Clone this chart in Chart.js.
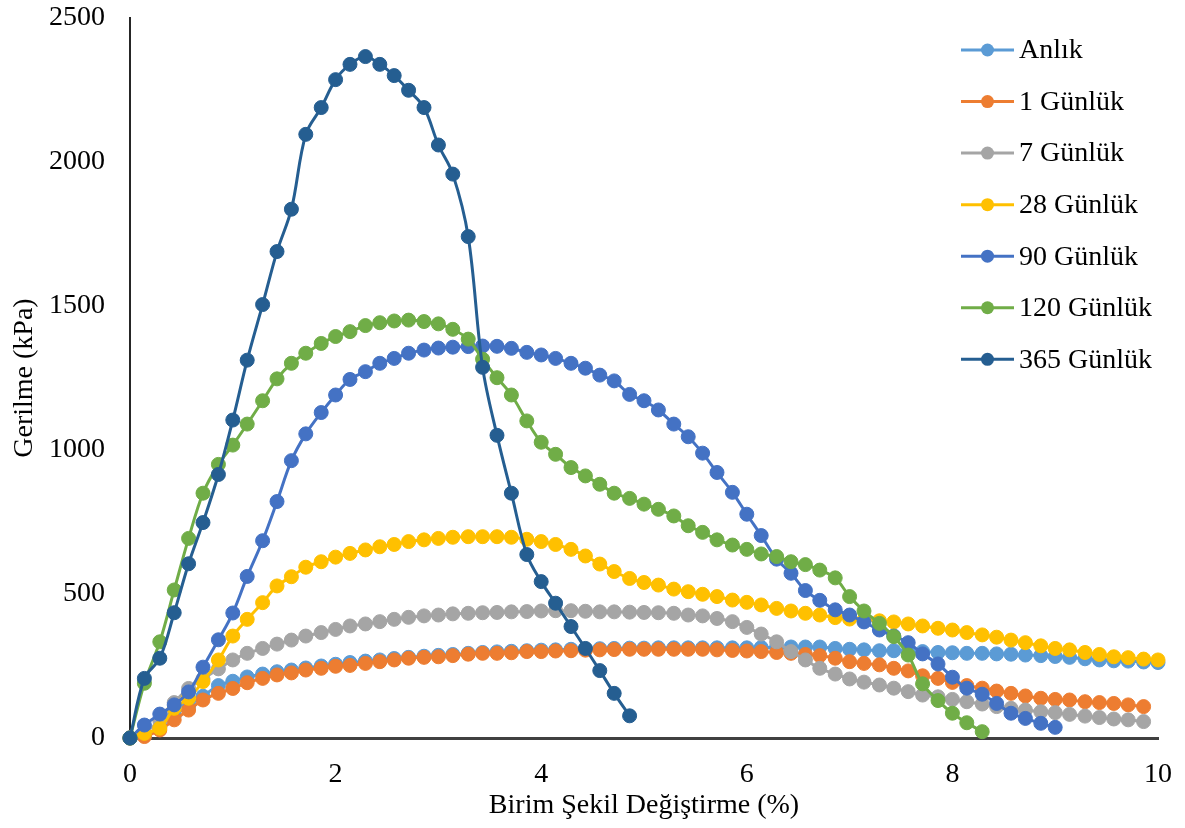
<!DOCTYPE html>
<html lang="tr">

<head>
    <meta charset="UTF-8">
    <title>Gerilme - Birim Şekil Değiştirme</title>
    <script src="https://cdn.jsdelivr.net/npm/chart.js@4.4.1/dist/chart.umd.min.js"></script>
    <style>
        html, body { margin: 0; padding: 0; background: #fff; }
        .chart-container { width: 1185px; height: 828px; position: relative; }
    </style>
</head>

<body>

    <!--chart canvas start-->
    <div class="chart-container">
        <canvas id="chart"></canvas>
    </div>
    <!--chart canvas end-->

    <script>

    // birim şekil değiştirme (%) - same step for every series
    const strain = [0, 0.14, 0.29, 0.43, 0.57, 0.71, 0.86, 1.00, 1.14, 1.29, 1.43, 1.57, 1.71, 1.86,
        2.00, 2.14, 2.29, 2.43, 2.57, 2.71, 2.86, 3.00, 3.14, 3.29, 3.43, 3.57, 3.71, 3.86,
        4.00, 4.14, 4.29, 4.43, 4.57, 4.71, 4.86, 5.00, 5.14, 5.29, 5.43, 5.57, 5.71, 5.86,
        6.00, 6.14, 6.29, 6.43, 6.57, 6.71, 6.86, 7.00, 7.14, 7.29, 7.43, 7.57, 7.71, 7.86,
        8.00, 8.14, 8.29, 8.43, 8.57, 8.71, 8.86, 9.00, 9.14, 9.29, 9.43, 9.57, 9.71, 9.86, 10.00];

    // gerilme (kPa)
    const anlik = [0, 8, 38, 78, 112, 145, 182, 197, 212, 222, 230, 236, 243, 250, 256, 262, 267, 271, 276, 280,
        284, 287, 290, 294, 297, 299, 301, 303, 305, 306, 308, 309, 310, 311, 312, 312, 313, 313, 313, 313,
        313, 313, 313, 314, 315, 316, 316, 316, 311, 308, 306, 303, 303, 300, 300, 297, 296, 294, 294, 292,
        291, 288, 286, 283, 280, 275, 271, 268, 267, 264, 262];

    const gun1 = [0, 5, 28, 63, 97, 132, 155, 172, 192, 207, 219, 226, 236, 242, 249, 252, 259, 265, 271, 277,
        280, 282, 286, 291, 294, 294, 296, 300, 300, 302, 303, 305, 306, 307, 308, 308, 308, 308, 308, 308,
        306, 304, 302, 300, 297, 294, 290, 286, 277, 265, 259, 254, 242, 233, 216, 207, 193, 182, 173, 163,
        155, 146, 138, 134, 132, 126, 123, 120, 115, 109];

    const gun7 = [0, 20, 60, 123, 172, 205, 240, 271, 294, 311, 326, 340, 354, 366, 377, 389, 396, 404, 412, 419,
        424, 427, 431, 433, 435, 436, 438, 439, 441, 442, 442, 440, 438, 438, 437, 436, 435, 433, 427, 424,
        415, 404, 384, 361, 334, 300, 271, 242, 222, 205, 194, 184, 173, 161, 149, 143, 134, 126, 118, 109,
        103, 97, 91, 88, 82, 76, 71, 66, 63, 57];

    const gun28 = [0, 16, 34, 103, 138, 196, 271, 354, 412, 470, 528, 560, 593, 612, 628, 641, 653, 664, 672, 682,
        688, 693, 697, 699, 699, 699, 697, 690, 682, 672, 655, 632, 604, 578, 554, 540, 531, 517, 508, 499,
        491, 479, 471, 462, 450, 441, 433, 427, 418, 413, 410, 407, 403, 396, 389, 381, 375, 366, 358, 350,
        340, 331, 320, 311, 306, 297, 290, 282, 279, 274, 271];

    const gun90 = [0, 45, 83, 115, 160, 246, 341, 434, 561, 685, 821, 963, 1056, 1130, 1191, 1245, 1272, 1301, 1318, 1336,
        1347, 1354, 1357, 1359, 1361, 1360, 1353, 1339, 1330, 1318, 1301, 1284, 1260, 1240, 1193, 1171, 1139, 1090, 1046, 989,
        922, 853, 777, 703, 621, 572, 512, 478, 445, 427, 403, 375, 354, 331, 292, 257, 211, 173, 152, 120,
        86, 68, 51, 37];

    const gun120 = [0, 190, 334, 514, 693, 850, 950, 1017, 1090, 1171, 1247, 1301, 1336, 1370, 1394, 1411, 1432, 1442, 1448, 1451,
        1446, 1438, 1419, 1385, 1315, 1251, 1191, 1101, 1027, 985, 939, 910, 881, 850, 832, 812, 794, 771, 737, 714,
        688, 670, 655, 639, 630, 612, 602, 583, 556, 491, 441, 398, 352, 288, 188, 130, 86, 53, 22];

    const gun365 = [0, 207, 277, 435, 605, 748, 915, 1104, 1312, 1505, 1689, 1836, 2096, 2189, 2286, 2339, 2366, 2339, 2300, 2249,
        2189, 2059, 1958, 1741, 1287, 1051, 850, 637, 543, 468, 387, 311, 234, 155, 77];

    const seriesNames = ['Anlık', '1 Günlük', '7 Günlük', '28 Günlük', '90 Günlük', '120 Günlük', '365 Günlük'];
    const seriesData = [anlik, gun1, gun7, gun28, gun90, gun120, gun365];
    const seriesColors = ['#5B9BD5', '#ED7D31', '#A5A5A5', '#FFC000', '#4472C4', '#70AD47', '#255E91'];

    const xTicks = [0, 2, 4, 6, 8, 10];
    const yTicks = [0, 500, 1000, 1500, 2000, 2500];

    const fontFamily = "'Times New Roman', 'Liberation Serif', serif";

    // legend drawn like excel: short line with a marker in the middle
    const excelLegend = {
        id: 'excelLegend',
        afterDraw(chart) {
            const ctx = chart.ctx;
            ctx.save();
            ctx.font = '28px ' + fontFamily;
            ctx.textBaseline = 'middle';
            ctx.textAlign = 'left';
            seriesNames.forEach((name, i) => {
                const y = 50 + i * 51.55;
                ctx.strokeStyle = seriesColors[i];
                ctx.lineWidth = 3;
                ctx.beginPath();
                ctx.moveTo(961, y);
                ctx.lineTo(1014, y);
                ctx.stroke();
                ctx.fillStyle = seriesColors[i];
                ctx.beginPath();
                ctx.arc(987.5, y, 6.5, 0, Math.PI * 2);
                ctx.fill();
                ctx.fillStyle = '#000';
                ctx.fillText(name, 1019, y + 1);
            });
            ctx.restore();
        }
    };

    const datasets = seriesNames.map((name, i) => ({
        label: name,
        data: seriesData[i].map((v, j) => ({ x: strain[j], y: v })),
        borderColor: seriesColors[i],
        backgroundColor: seriesColors[i],
        pointBackgroundColor: seriesColors[i],
        pointBorderColor: seriesColors[i],
        borderWidth: 3,
        pointRadius: 7,
        pointBorderWidth: 1,
        tension: 0.35,
        fill: false,
        clip: false,
        // later series on top, like excel
        order: seriesNames.length - i
    }));

    // keep the plot box fixed: no extra room for overflowing tick labels
    function noScalePadding(scale) {
        scale.paddingTop = 0;
        scale.paddingBottom = 0;
        scale.paddingLeft = 0;
        scale.paddingRight = 0;
    }

    const ctx = document.getElementById('chart').getContext('2d');

    const myChart = new Chart(ctx, {
        type: 'line',
        data: { datasets: datasets },
        plugins: [excelLegend],
        options: {
            responsive: true,
            maintainAspectRatio: false,
            animation: false,
            layout: {
                padding: { left: 0, right: 27, top: 18, bottom: 0 }
            },
            plugins: {
                legend: { display: false },
                tooltip: { enabled: false }
            },
            scales: {
                x: {
                    type: 'linear',
                    min: 0,
                    max: 10,
                    afterFit: function (scale) { scale.height = 90; noScalePadding(scale); },
                    afterBuildTicks: function (scale) { scale.ticks = xTicks.map(v => ({ value: v })); },
                    grid: { drawOnChartArea: false, drawTicks: false },
                    border: { display: true, color: '#404040', width: 3 },
                    ticks: {
                        color: '#000',
                        padding: 20,
                        font: { family: fontFamily, size: 28 },
                        callback: function (value) { return String(value); }
                    },
                    title: {
                        display: true,
                        text: 'Birim Şekil Değiştirme (%)',
                        color: '#000',
                        padding: { top: 0, bottom: 6 },
                        font: { family: fontFamily, size: 28 }
                    }
                },
                y: {
                    type: 'linear',
                    min: 0,
                    max: 2500,
                    afterFit: function (scale) { scale.width = 130; noScalePadding(scale); },
                    afterBuildTicks: function (scale) { scale.ticks = yTicks.map(v => ({ value: v })); },
                    grid: { drawOnChartArea: false, drawTicks: false },
                    border: { display: true, color: '#262626', width: 2 },
                    ticks: {
                        color: '#000',
                        padding: 25,
                        font: { family: fontFamily, size: 28 },
                        callback: function (value) { return String(value); }
                    },
                    title: {
                        display: true,
                        text: 'Gerilme (kPa)',
                        color: '#000',
                        padding: { top: 8, bottom: 0 },
                        font: { family: fontFamily, size: 28 }
                    }
                }
            }
        }
    });

    </script>

</body>

</html>
